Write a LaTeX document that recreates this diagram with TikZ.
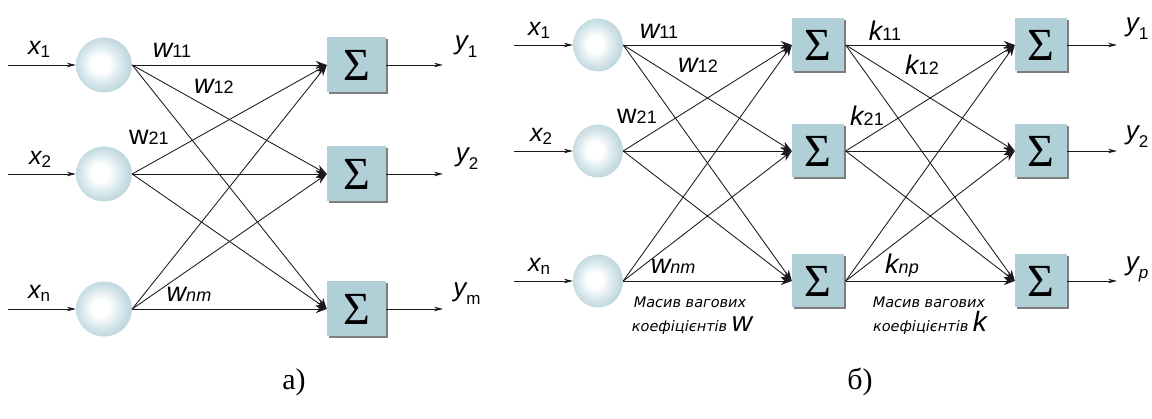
\documentclass[tikz,border=0pt]{standalone}
\usepackage{fontspec}
\usetikzlibrary{arrows.meta,shapes.geometric,shadows}
\newfontfamily\lab{Liberation Sans}
\newfontfamily\capfont{Liberation Serif}
\newfontfamily\notefont{DejaVu Sans}
\definecolor{sphedge}{RGB}{192,216,223}
\definecolor{sphmid}{RGB}{226,238,241}
\definecolor{boxblue}{RGB}{176,207,215}
\definecolor{boxshadow}{RGB}{125,125,125}
\pgfdeclareradialshading{sphere}{\pgfpoint{-4bp}{1bp}}{%
  color(0bp)=(white); color(8bp)=(white); color(15bp)=(sphmid); color(25bp)=(sphedge); color(50bp)=(sphedge)}
% label helpers
\newcommand\wlab[2]{{\fontsize{27}{27}\selectfont\lab\itshape #1}{\fontsize{18}{18}\selectfont\lab #2}}
\newcommand\wuplab[2]{{\fontsize{27}{27}\selectfont\lab #1}{\fontsize{18}{18}\selectfont\lab #2}}
\newcommand\xlab[1]{{\fontsize{25}{25}\selectfont\lab\itshape x}\raisebox{-3pt}{\fontsize{17}{17}\selectfont\lab #1}}
\newcommand\ylab[1]{{\fontsize{26}{26}\selectfont\lab\itshape y}\raisebox{-8pt}{\fontsize{17}{17}\selectfont\lab #1}}
\newcommand\sigmark{{\fontsize{46}{46}\selectfont\capfont Σ}}
\begin{document}
\begin{tikzpicture}[x=1pt,y=-1pt,
  neuron/.style={ellipse,draw=none,shading=sphere,inner sep=0pt},
  neurona/.style={neuron,minimum width=56pt,minimum height=55pt},
  neuronb/.style={neuron,minimum width=50pt,minimum height=53pt},
  sumbox/.style={rectangle,fill=boxblue,inner sep=0pt,
    drop shadow={shadow xshift=1.6pt,shadow yshift=-2pt,fill=boxshadow,opacity=1}},
  sumboxa/.style={sumbox,minimum width=59pt,minimum height=55pt},
  sumboxb/.style={sumbox,minimum width=52pt,minimum height=53pt},
  wline/.style={line width=0.85pt,draw=black!90,-{Stealth[length=11pt,width=8pt]}},
  ioline/.style={line width=0.85pt,draw=black!90,-{Stealth[length=9pt,width=4.5pt]}},
  note/.style={font=\fontsize{14.5}{16}\selectfont\notefont\itshape,align=center,inner sep=0pt},
  panel/.style={font=\fontsize{30}{30}\selectfont\capfont}]
\useasboundingbox (0,0) rectangle (1152,419);

% ---------------- panel a ----------------
\foreach \i/\y in {1/65,2/174,3/309}{
  \node[neurona] (a\i) at (104,\y) {};
  \coordinate (ain\i) at (8,\y);
  \node[sumboxa] (as\i) at (356.5,\y) {\sigmark};
  \coordinate (aout\i) at (443,\y);
  \draw[ioline] (ain\i) -- (a\i.west);
  \draw[ioline] (as\i.east) -- (aout\i);
}
\foreach \i in {1,2,3}{
  \foreach \j in {1,2,3}{
    \draw[wline] (a\i.east) -- (as\j.west);
  }
}
\node (ax1) at (39,49) {\xlab{1}};
\node (ax2) at (40,159) {\xlab{2}};
\node (ax3) at (39,293) {\xlab{n}};
\node (ay1) at (466,47) {\ylab{1}};
\node (ay2) at (467,159) {\ylab{2}};
\node (ay3) at (467,294) {\ylab{m}};
\node (aw11) at (172,50) {\wlab{w}{11}};
\node (aw12) at (214,86) {\wlab{w}{12}};
\node (aw21) at (149,137) {\wuplab{w}{21}};
\node (awnm) at (189,294) {\wlab{w}{\itshape nm}};

% ---------------- panel b ----------------
\foreach \i/\y in {1/45,2/151,3/281}{
  \node[neuronb] (b\i) at (598,\y) {};
  \coordinate (bin\i) at (514,\y);
  \node[sumboxb] (bs\i) at (818,\y) {\sigmark};
  \node[sumboxb] (bt\i) at (1041,\y) {\sigmark};
  \coordinate (bout\i) at (1117,\y);
  \draw[ioline] (bin\i) -- (b\i.west);
  \draw[ioline] (bt\i.east) -- (bout\i);
}
\foreach \i in {1,2,3}{
  \foreach \j in {1,2,3}{
    \draw[wline] (b\i.east) -- (bs\j.west);
    \draw[wline] ([xshift=1.5pt]bs\i.east) -- (bt\j.west);
  }
}
\node (bx1) at (539,30) {\xlab{1}};
\node (bx2) at (541,136) {\xlab{2}};
\node (bx3) at (539,266) {\xlab{n}};
\node (by1) at (1137,29) {\ylab{1}};
\node (by2) at (1137,137) {\ylab{2}};
\node (by3) at (1137,269) {\ylab{\itshape p}};
\node (bw11) at (659,31) {\wlab{w}{11}};
\node (bw12) at (698,65) {\wlab{w}{12}};
\node (bw21) at (637,116) {\wuplab{w}{21}};
\node (bwnm) at (673,266) {\wlab{w}{\itshape nm}};
\node (bk11) at (885,31) {\wlab{k}{11}};
\node (bk12) at (922,65) {\wlab{k}{12}};
\node (bk21) at (867,116) {\wlab{k}{21}};
\node (bknp) at (902,266) {\wlab{k}{\itshape np}};
\node[note] (bnw1) at (690,302) {Масив вагових};
\node[note,anchor=base] (bnw2) at (692,332) {коефіцієнтів {\fontsize{28}{28}\selectfont\lab w}};
\node[note] (bnk1) at (929,302) {Масив вагових};
\node[note,anchor=base] (bnk2) at (930,332) {коефіцієнтів {\fontsize{28}{28}\selectfont\lab k}};

% ---------------- captions ----------------
\node[panel] (capa) at (294,382) {a)};
\node[panel] (capb) at (860,382) {б)};
\end{tikzpicture}
\end{document}
